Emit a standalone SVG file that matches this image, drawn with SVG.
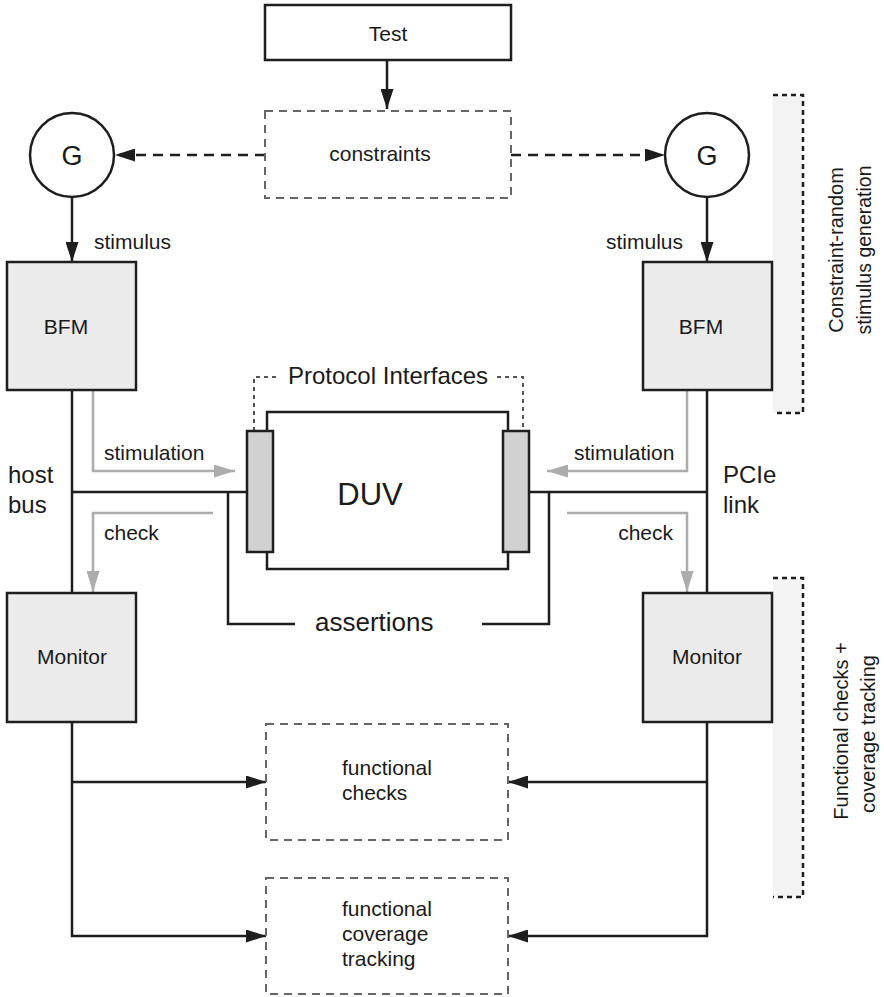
<svg xmlns="http://www.w3.org/2000/svg" width="884" height="997" viewBox="0 0 884 997">
  <style>
    text { font-family: "Liberation Sans", Arial, sans-serif; fill: #1a1a1a; }
    .sm { font-size: 21px; }
    .md { font-size: 24px; }
    .side { font-size: 20px; }
    .box { fill: #ffffff; stroke: #1e1e1e; stroke-width: 2.5; }
    .unit { fill: #ebebeb; stroke: #1e1e1e; stroke-width: 2.5; }
    .port { fill: #d0d1d0; stroke: #1e1e1e; stroke-width: 2.5; }
    .soft { fill: none; stroke: #666666; stroke-width: 2; stroke-dasharray: 8 6; }
    .wire { fill: none; stroke: #1e1e1e; stroke-width: 2.5; }
    .dwire { fill: none; stroke: #1e1e1e; stroke-width: 2.5; stroke-dasharray: 10 7; }
    .grey { fill: none; stroke: #acacac; stroke-width: 2.5; }
    .dots { fill: none; stroke: #555555; stroke-width: 2; stroke-dasharray: 4 4; }
    .band { fill: #f3f3f3; stroke: none; }
    .bandEdge { fill: none; stroke: #1e1e1e; stroke-width: 2.5; stroke-dasharray: 5 4; }
  </style>
  <defs>
    <marker id="arrowBlack" markerUnits="userSpaceOnUse" markerWidth="20" markerHeight="13" refX="20" refY="6.5" orient="auto">
      <path d="M0,0 L20,6.5 L0,13 z" fill="#1e1e1e"/>
    </marker>
    <marker id="arrowGrey" markerUnits="userSpaceOnUse" markerWidth="21" markerHeight="13" refX="21" refY="6.5" orient="auto">
      <path d="M0,0 L21,6.5 L0,13 z" fill="#acacac"/>
    </marker>
  </defs>

  <!-- side bands marking the two verification phases -->
  <g id="band-generation">
    <rect class="band" x="773" y="95" width="30" height="318"/>
    <path class="bandEdge" d="M773 95 H803 V413 H773"/>
    <text class="side" transform="translate(843,250) rotate(-90)" text-anchor="middle">Constraint-random</text>
    <text class="side" transform="translate(871,250) rotate(-90)" text-anchor="middle" style="font-size:19.5px">stimulus generation</text>
  </g>
  <g id="band-checks">
    <rect class="band" x="773" y="578" width="30" height="319"/>
    <path class="bandEdge" d="M773 578 H803 V897 H773"/>
    <text class="side" transform="translate(848,731) rotate(-90)" text-anchor="middle">Functional checks +</text>
    <text class="side" transform="translate(875,734) rotate(-90)" text-anchor="middle">coverage tracking</text>
  </g>

  <!-- connectors -->
  <g id="connectors">
    <line class="wire" x1="387" y1="60" x2="387" y2="109" marker-end="url(#arrowBlack)"/>
    <line class="dwire" x1="265" y1="155" x2="115" y2="155" marker-end="url(#arrowBlack)"/>
    <line class="dwire" x1="511" y1="155" x2="665" y2="155" marker-end="url(#arrowBlack)"/>
    <line class="wire" x1="72" y1="197" x2="72" y2="262" marker-end="url(#arrowBlack)"/>
    <line class="wire" x1="707" y1="197" x2="707" y2="262" marker-end="url(#arrowBlack)"/>

    <!-- host bus and PCIe link -->
    <path class="wire" d="M72 390 V593"/>
    <path class="wire" d="M72 492 H247"/>
    <path class="wire" d="M707 390 V593"/>
    <path class="wire" d="M529 492 H707"/>

    <!-- assertion taps -->
    <path class="wire" d="M228 492 V624 H295"/>
    <path class="wire" d="M549 492 V624 H482"/>

    <!-- protocol interface leaders -->
    <path class="dots" d="M254 431 V377 H280"/>
    <path class="dots" d="M497 377 H523 V431"/>

    <!-- stimulation / check flows -->
    <path class="grey" d="M93 390 V471 H235" marker-end="url(#arrowGrey)"/>
    <path class="grey" d="M687 390 V471 H547" marker-end="url(#arrowGrey)"/>
    <path class="grey" d="M213 513 H93 V592" marker-end="url(#arrowGrey)"/>
    <path class="grey" d="M567 513 H687 V592" marker-end="url(#arrowGrey)"/>

    <!-- monitor outputs -->
    <path class="wire" d="M72 722 V936 H266" marker-end="url(#arrowBlack)"/>
    <path class="wire" d="M72 782 H266" marker-end="url(#arrowBlack)"/>
    <path class="wire" d="M707 722 V936 H508" marker-end="url(#arrowBlack)"/>
    <path class="wire" d="M707 782 H508" marker-end="url(#arrowBlack)"/>
  </g>

  <!-- connector labels -->
  <g id="labels">
    <text class="sm" x="94" y="249">stimulus</text>
    <text class="sm" x="683" y="249" text-anchor="end">stimulus</text>
    <text class="sm" x="104" y="460">stimulation</text>
    <text class="sm" x="574" y="460">stimulation</text>
    <text class="sm" x="104" y="540">check</text>
    <text class="sm" x="673" y="540" text-anchor="end">check</text>
    <text class="md" x="8" y="483">host</text>
    <text class="md" x="8" y="513">bus</text>
    <text class="md" x="723" y="483">PCIe</text>
    <text class="md" x="723" y="513">link</text>
    <text class="md" x="288" y="384">Protocol Interfaces</text>
    <text x="315" y="631" style="font-size:26px">assertions</text>
  </g>

  <g id="test">
    <rect class="box" x="265" y="5" width="246" height="55"/>
    <text class="sm" x="388" y="41" text-anchor="middle">Test</text>
  </g>

  <g id="constraints">
    <rect class="soft" x="265" y="111" width="246" height="87"/>
    <text class="sm" x="380" y="161" text-anchor="middle">constraints</text>
  </g>

  <g id="gen-left">
    <circle class="box" cx="72" cy="155" r="42"/>
    <text x="72" y="165" text-anchor="middle" style="font-size:27px">G</text>
  </g>
  <g id="gen-right">
    <circle class="box" cx="707" cy="155" r="42"/>
    <text x="707" y="165" text-anchor="middle" style="font-size:27px">G</text>
  </g>

  <g id="bfm-left">
    <rect class="unit" x="7" y="262" width="129" height="128"/>
    <text class="sm" x="66" y="334" text-anchor="middle">BFM</text>
  </g>
  <g id="bfm-right">
    <rect class="unit" x="643" y="262" width="129" height="128"/>
    <text class="sm" x="701" y="334" text-anchor="middle">BFM</text>
  </g>

  <g id="duv">
    <rect class="box" x="267" y="412" width="241" height="157"/>
    <text x="370" y="505" text-anchor="middle" style="font-size:31px">DUV</text>
  </g>
  <g id="port-left">
    <rect class="port" x="247" y="431" width="26" height="121"/>
  </g>
  <g id="port-right">
    <rect class="port" x="503" y="431" width="26" height="121"/>
  </g>

  <g id="monitor-left">
    <rect class="unit" x="7" y="593" width="129" height="129"/>
    <text class="sm" x="72" y="664" text-anchor="middle">Monitor</text>
  </g>
  <g id="monitor-right">
    <rect class="unit" x="643" y="593" width="129" height="129"/>
    <text class="sm" x="707" y="664" text-anchor="middle">Monitor</text>
  </g>

  <g id="functional-checks">
    <rect class="soft" x="266" y="724" width="242" height="116"/>
    <text class="sm" x="342" y="775">functional</text>
    <text class="sm" x="342" y="800">checks</text>
  </g>

  <g id="coverage-tracking">
    <rect class="soft" x="266" y="878" width="242" height="116"/>
    <text class="sm" x="342" y="916">functional</text>
    <text class="sm" x="342" y="941">coverage</text>
    <text class="sm" x="342" y="966">tracking</text>
  </g>
</svg>
